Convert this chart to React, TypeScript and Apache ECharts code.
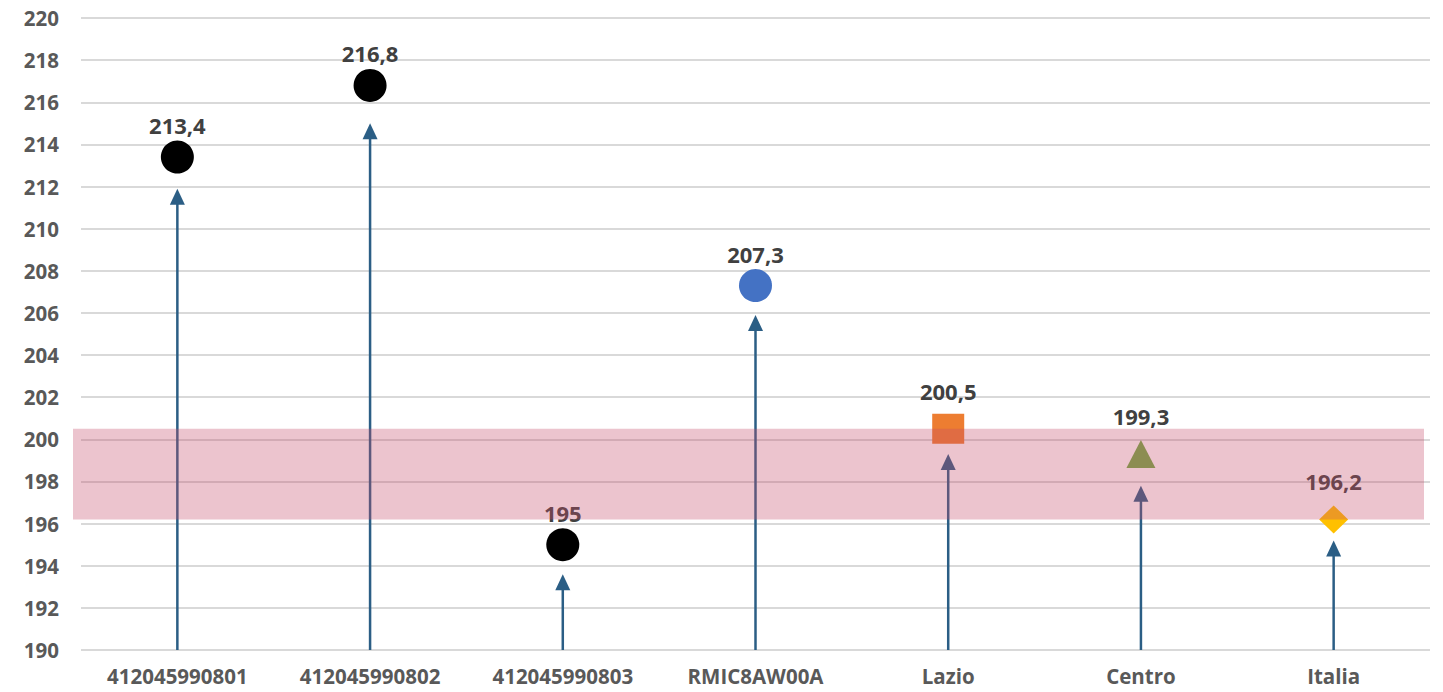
import React, { useEffect, useRef } from "react";
import * as echarts from "echarts";

const categories = [
  "412045990801",
  "412045990802",
  "412045990803",
  "RMIC8AW00A",
  "Lazio",
  "Centro",
  "Italia",
];
const values = [213.4, 216.8, 195, 207.3, 200.5, 199.3, 196.2];
const arrowTips = [211.9, 215.0, 193.6, 205.9, 199.3, 197.8, 195.2];
const bandRange = [196.2, 200.5];
const yMin = 190;
const yMax = 220;
const yStep = 2;

const markerStyles = [
  { symbol: "circle", size: 33, color: "#000000", labelOffset: 32 },
  { symbol: "circle", size: 33, color: "#000000", labelOffset: 32 },
  { symbol: "circle", size: 33, color: "#000000", labelOffset: 32 },
  { symbol: "circle", size: 33, color: "#4472C4", labelOffset: 32 },
  { symbol: "rect", size: [32, 30], color: "#ED7D31", labelOffset: 38 },
  { symbol: "triangle", size: [29, 28], color: "#70AD47", labelOffset: 38 },
  { symbol: "diamond", size: [29, 28], color: "#FFC000", labelOffset: 38 },
];

const FONT = "'Open Sans', 'Noto Sans', sans-serif";
const ARROW = "#2B5E85";

export default function App() {
  const ref = useRef<HTMLDivElement>(null);
  useEffect(() => {
    if (!ref.current) return;
    const chart = echarts.init(ref.current, undefined, { renderer: "svg" });
    const scatterData = values.map((v, i) => {
      const s = markerStyles[i];
      return {
        value: [i, v],
        symbol: s.symbol,
        symbolSize: s.size,
        itemStyle: { color: s.color, opacity: 1 },
        label: { offset: [0, -s.labelOffset] },
      };
    });
    chart.setOption({
      animation: false,
      backgroundColor: "#ffffff",
      grid: { left: 81, right: 13, top: 18, bottom: 42 },
      xAxis: {
        type: "category",
        data: categories,
        boundaryGap: true,
        axisLine: { show: false },
        axisTick: { show: false },
        splitLine: { show: false },
        axisLabel: {
          margin: 16,
          fontFamily: FONT,
          fontSize: 20.5,
          lineHeight: 20,
          fontWeight: "bold",
          color: "#595959",
        },
      },
      yAxis: {
        type: "value",
        min: yMin,
        max: yMax,
        interval: yStep,
        axisLine: { show: false },
        axisTick: { show: false },
        splitLine: { show: true, lineStyle: { color: "#D9D9D9", width: 2 } },
        axisLabel: {
          margin: 22,
          fontFamily: FONT,
          fontSize: 20.5,
          fontWeight: "bold",
          color: "#595959",
        },
      },
      series: [
        {
          type: "custom",
          name: "arrows",
          z: 3,
          data: arrowTips.map((t, i) => [i, t]),
          encode: { x: 0, y: 1 },
          renderItem: (params: any, api: any) => {
            const idx = api.value(0);
            const base = api.coord([idx, yMin]);
            const tip = api.coord([idx, api.value(1)]);
            return {
              type: "group",
              children: [
                {
                  type: "line",
                  shape: { x1: base[0], y1: base[1], x2: tip[0], y2: tip[1] + 14 },
                  style: { stroke: ARROW, lineWidth: 2.5 },
                },
                {
                  type: "polygon",
                  shape: {
                    points: [
                      [tip[0], tip[1]],
                      [tip[0] - 7.5, tip[1] + 16],
                      [tip[0] + 7.5, tip[1] + 16],
                    ],
                  },
                  style: { fill: ARROW },
                },
              ],
            };
          },
        },
        {
          type: "scatter",
          name: "values",
          z: 4,
          data: scatterData,
          itemStyle: { opacity: 1 },
          label: {
            show: true,
            position: "inside",
            formatter: (p: any) => String(p.value[1]).replace(".", ","),
            fontFamily: FONT,
            fontSize: 22,
            fontWeight: "bold",
            color: "#404040",
          },
        },
        {
          type: "custom",
          name: "band",
          z: 10,
          silent: true,
          data: [[0, bandRange[0], bandRange[1]]],
          encode: { x: 0, y: [1, 2] },
          renderItem: (params: any, api: any) => {
            const cs = params.coordSys;
            const yLow = api.coord([0, api.value(1)])[1];
            const yHigh = api.coord([0, api.value(2)])[1];
            return {
              type: "rect",
              shape: {
                x: cs.x - 8,
                y: yHigh,
                width: cs.width + 2,
                height: yLow - yHigh,
              },
              style: { fill: "rgba(197,76,106,0.33)" },
            };
          },
        },
      ],
    });
    return () => chart.dispose();
  }, []);
  return (
    <div
      ref={ref}
      style={{ position: "absolute", left: 0, top: 0, width: 1443, height: 692 }}
    />
  );
}
